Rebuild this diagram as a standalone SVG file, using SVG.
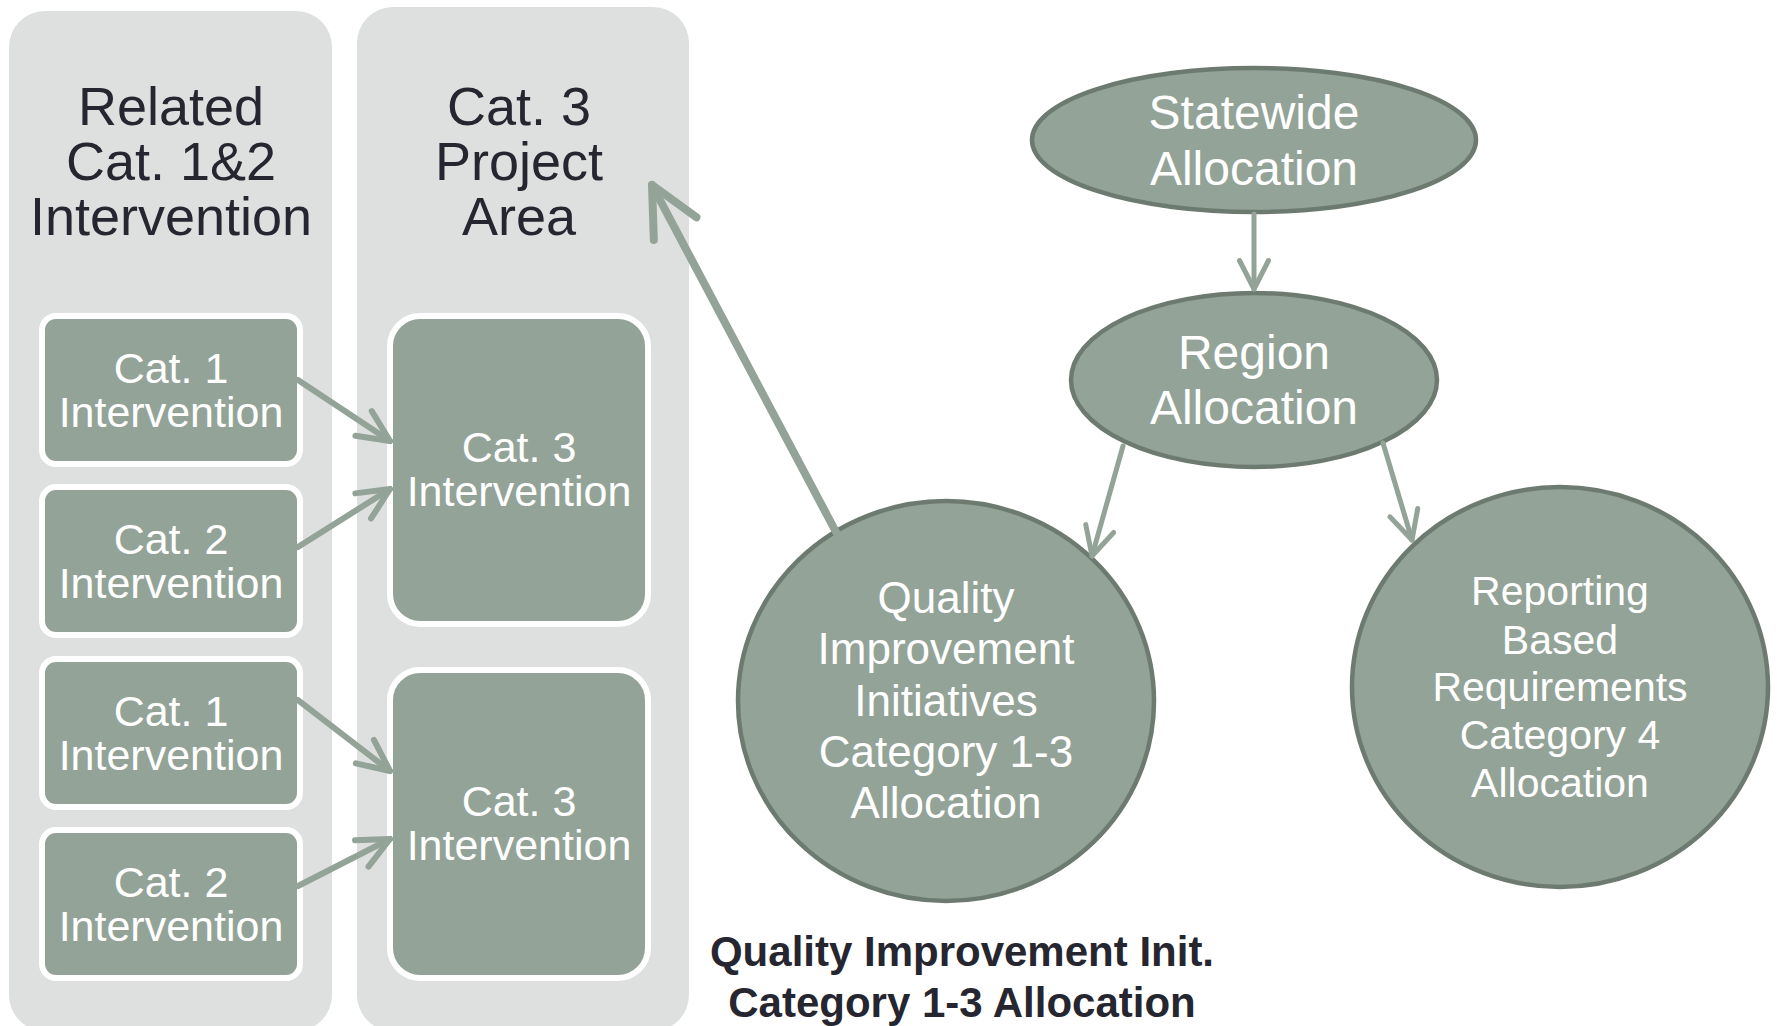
<svg xmlns="http://www.w3.org/2000/svg" width="1779" height="1026" viewBox="0 0 1779 1026">
  <style>
    .panel { fill: #dde0df; }
    .box { fill: #93a398; stroke: #ffffff; stroke-width: 6; }
    .oval { fill: #93a398; stroke: #6d7a70; stroke-width: 4.5; }
    .title { font-family: "Liberation Sans", Arial, sans-serif; font-size: 54px; fill: #262630; text-anchor: middle; }
    .lbl { font-family: "Liberation Sans", Arial, sans-serif; fill: #ffffff; text-anchor: middle; }
    .caption { font-family: "Liberation Sans", Arial, sans-serif; font-weight: bold; font-size: 42px; fill: #262630; text-anchor: middle; }
    .link { stroke: #93a398; fill: none; stroke-linecap: round; }
    .head { stroke: #93a398; fill: none; stroke-linecap: round; stroke-linejoin: round; }
  </style>
  <defs>
    <marker id="headSmall" markerUnits="userSpaceOnUse" orient="auto" overflow="visible" refX="0" refY="0" markerWidth="1" markerHeight="1">
      <path class="head" stroke-width="6" d="M -31.7 -14.8 L 0 0 L -31.7 14.8"/>
    </marker>
    <marker id="headMid" markerUnits="userSpaceOnUse" orient="auto" overflow="visible" refX="0" refY="0" markerWidth="1" markerHeight="1">
      <path class="head" stroke-width="5" d="M -28.5 -14.5 L 0 0 L -28.5 14.5"/>
    </marker>
    <marker id="headBig" markerUnits="userSpaceOnUse" orient="auto" overflow="visible" refX="0" refY="0" markerWidth="1" markerHeight="1">
      <path class="head" stroke-width="8" d="M -49.4 -24.1 L 0 0 L -49.4 24.1"/>
    </marker>
  </defs>

  <rect width="1779" height="1026" fill="#ffffff"/>

  <!-- column panels -->
  <g id="panel-related">
    <rect class="panel" x="9" y="11" width="323" height="1020" rx="36" ry="36"/>
    <text class="title" x="171"><tspan x="171" y="125">Related</tspan><tspan x="171" y="180">Cat. 1&amp;2</tspan><tspan x="171" y="235">Intervention</tspan></text>
  </g>
  <g id="panel-cat3">
    <rect class="panel" x="357" y="7" width="332" height="1024" rx="36" ry="36"/>
    <text class="title" x="519"><tspan x="519" y="125">Cat. 3</tspan><tspan x="519" y="180">Project</tspan><tspan x="519" y="235">Area</tspan></text>
  </g>

  <!-- intervention boxes -->
  <g id="cat1-a">
    <rect class="box" x="42" y="316" width="258" height="148" rx="14" ry="14"/>
    <text class="lbl" font-size="43"><tspan x="171" y="383">Cat. 1</tspan><tspan x="171" y="427">Intervention</tspan></text>
  </g>
  <g id="cat2-a">
    <rect class="box" x="42" y="487" width="258" height="148" rx="14" ry="14"/>
    <text class="lbl" font-size="43"><tspan x="171" y="554">Cat. 2</tspan><tspan x="171" y="598">Intervention</tspan></text>
  </g>
  <g id="cat1-b">
    <rect class="box" x="42" y="659" width="258" height="148" rx="14" ry="14"/>
    <text class="lbl" font-size="43"><tspan x="171" y="726">Cat. 1</tspan><tspan x="171" y="770">Intervention</tspan></text>
  </g>
  <g id="cat2-b">
    <rect class="box" x="42" y="830" width="258" height="148" rx="14" ry="14"/>
    <text class="lbl" font-size="43"><tspan x="171" y="897">Cat. 2</tspan><tspan x="171" y="941">Intervention</tspan></text>
  </g>
  <g id="cat3-a">
    <rect class="box" x="390" y="316" width="258" height="308" rx="30" ry="30"/>
    <text class="lbl" font-size="43"><tspan x="519" y="462">Cat. 3</tspan><tspan x="519" y="506">Intervention</tspan></text>
  </g>
  <g id="cat3-b">
    <rect class="box" x="390" y="670" width="258" height="308" rx="30" ry="30"/>
    <text class="lbl" font-size="43"><tspan x="519" y="816">Cat. 3</tspan><tspan x="519" y="860">Intervention</tspan></text>
  </g>

  <!-- allocation ovals -->
  <g id="statewide">
    <ellipse class="oval" cx="1254" cy="140" rx="222" ry="72"/>
    <text class="lbl" font-size="48"><tspan x="1254" y="129">Statewide</tspan><tspan x="1254" y="185">Allocation</tspan></text>
  </g>
  <g id="region">
    <ellipse class="oval" cx="1254" cy="380" rx="183" ry="87"/>
    <text class="lbl" font-size="48"><tspan x="1254" y="369">Region</tspan><tspan x="1254" y="424">Allocation</tspan></text>
  </g>
  <g id="quality">
    <ellipse class="oval" cx="946" cy="701" rx="208" ry="200"/>
    <text class="lbl" font-size="44"><tspan x="946" y="613">Quality</tspan><tspan x="946" y="664">Improvement</tspan><tspan x="946" y="716">Initiatives</tspan><tspan x="946" y="767">Category 1-3</tspan><tspan x="946" y="818">Allocation</tspan></text>
  </g>
  <g id="reporting">
    <ellipse class="oval" cx="1560" cy="687" rx="208" ry="200"/>
    <text class="lbl" font-size="41"><tspan x="1560" y="605">Reporting</tspan><tspan x="1560" y="654">Based</tspan><tspan x="1560" y="701">Requirements</tspan><tspan x="1560" y="749">Category 4</tspan><tspan x="1560" y="797">Allocation</tspan></text>
  </g>

  <g id="caption">
    <text class="caption"><tspan x="962" y="966">Quality Improvement Init.</tspan><tspan x="962" y="1017">Category 1-3 Allocation</tspan></text>
  </g>

  <!-- connectors -->
  <g id="connectors">
    <line class="link" stroke-width="6" x1="298" y1="380" x2="390" y2="441" marker-end="url(#headSmall)"/>
    <line class="link" stroke-width="6" x1="298" y1="547" x2="390" y2="489" marker-end="url(#headSmall)"/>
    <line class="link" stroke-width="6" x1="298" y1="700" x2="390" y2="771" marker-end="url(#headSmall)"/>
    <line class="link" stroke-width="6" x1="298" y1="886" x2="390" y2="839" marker-end="url(#headSmall)"/>
    <line class="link" stroke-width="8" x1="836" y1="532" x2="652" y2="185" marker-end="url(#headBig)"/>
    <line class="link" stroke-width="5" x1="1254" y1="214" x2="1254" y2="289" marker-end="url(#headMid)"/>
    <line class="link" stroke-width="5" x1="1123" y1="446" x2="1092" y2="556" marker-end="url(#headMid)"/>
    <line class="link" stroke-width="5" x1="1383" y1="443" x2="1412" y2="540" marker-end="url(#headMid)"/>
  </g>
</svg>
